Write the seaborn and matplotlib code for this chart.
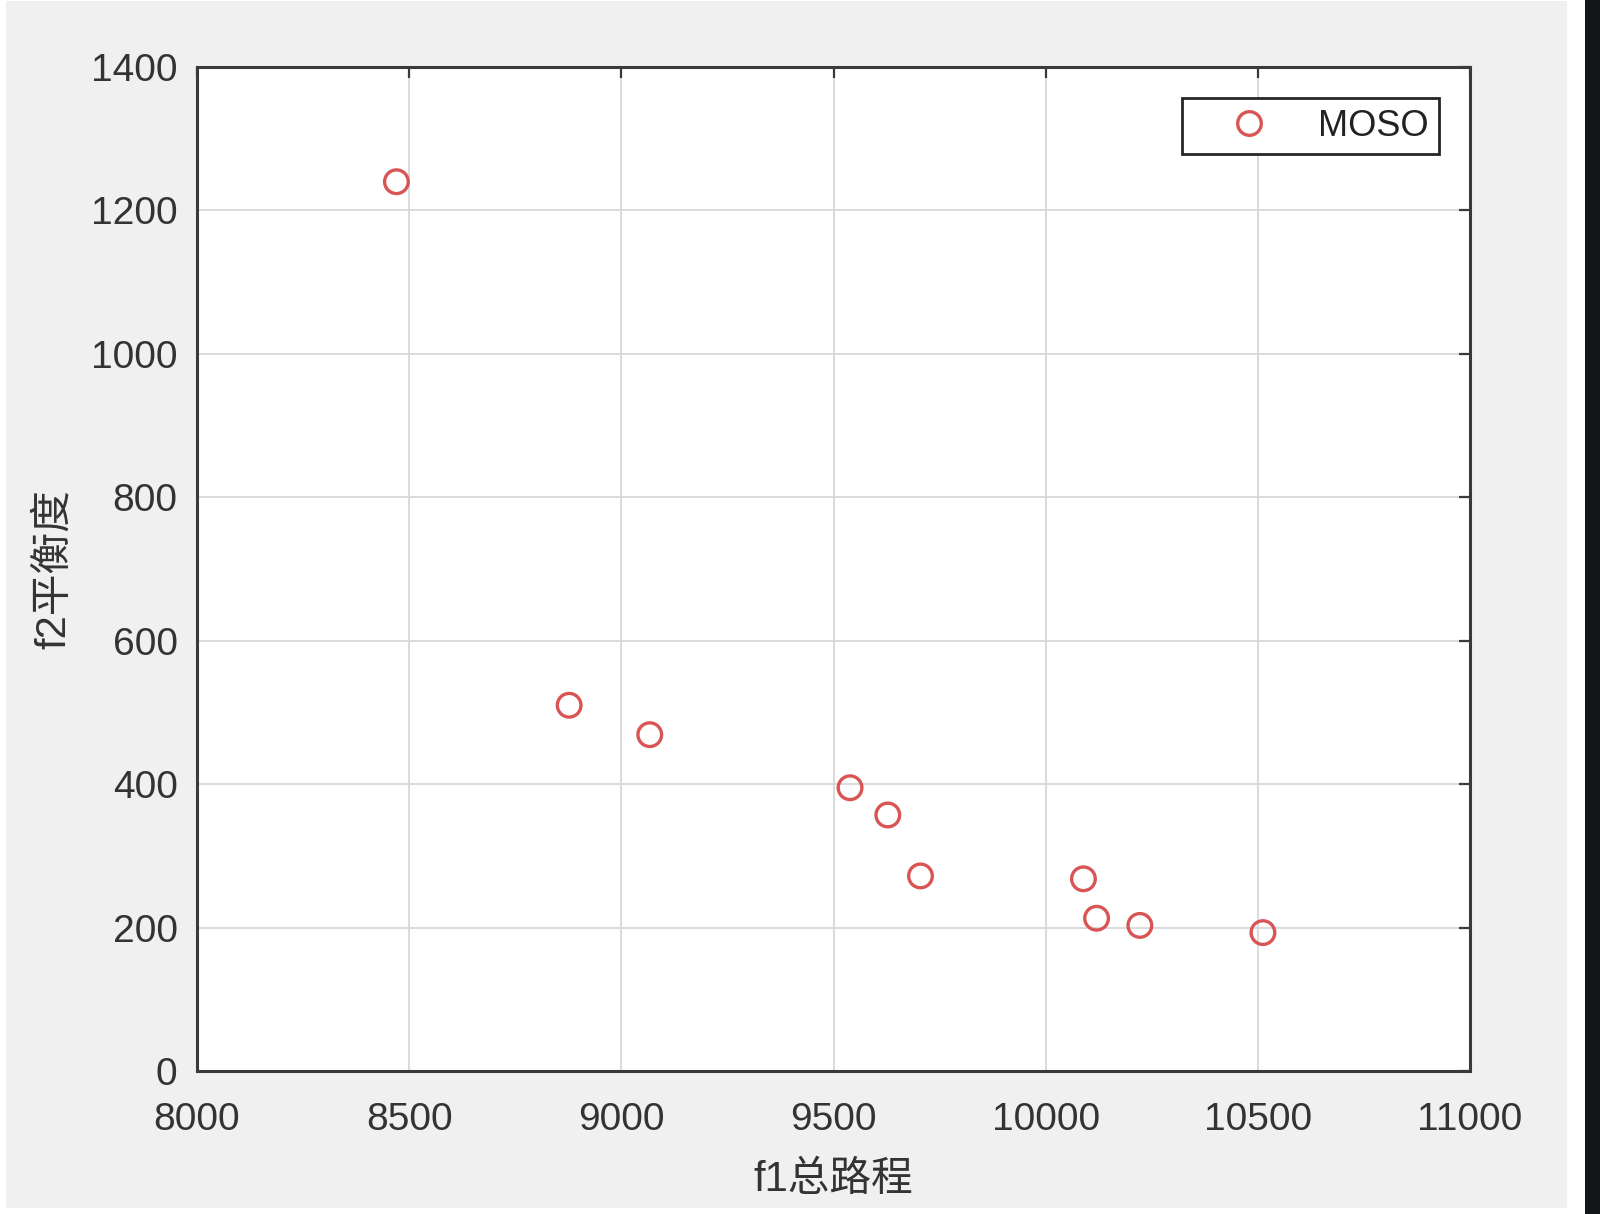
import matplotlib
matplotlib.use("Agg")
import matplotlib.pyplot as plt
from matplotlib.patches import Rectangle
from matplotlib.lines import Line2D
import seaborn as sns
import pandas as pd

# Data
f1_total_distance = [8470, 8877, 9067, 9539, 9628, 9705, 10089, 10120, 10222, 10512]
f2_balance = [1240, 510, 469, 395, 357, 272, 268, 213, 203, 193]
series_name = "MOSO"
x_ticks = [8000, 8500, 9000, 9500, 10000, 10500, 11000]
y_ticks = [0, 200, 400, 600, 800, 1000, 1200, 1400]
x_label = "f1总路程"
y_label = "f2平衡度"

sns.set_style("white")
plt.rcParams["font.family"] = ["Liberation Sans", "Noto Sans CJK SC", "DejaVu Sans"]

W, H = 1600, 1214
fig = plt.figure(figsize=(W / 100, H / 100), dpi=100, facecolor="white")

# Backgrounds: light gray window, black strip on the right
fig.patches.append(Rectangle((6 / W, (H - 1208) / H), (1567 - 6) / W, (1208 - 1) / H,
                             transform=fig.transFigure, facecolor="#f0f0f0",
                             edgecolor="none", zorder=-10))
fig.patches.append(Rectangle((1585 / W, 0), (W - 1585) / W, 1,
                             transform=fig.transFigure, facecolor="#131416",
                             edgecolor="none", zorder=-10))

ax_left, ax_right, ax_top, ax_bottom = 197, 1470, 67, 1071
ax = fig.add_axes([ax_left / W, (H - ax_bottom) / H, (ax_right - ax_left) / W,
                   (ax_bottom - ax_top) / H])
ax.set_facecolor("white")

marker_color = "#d95555"
df = pd.DataFrame({"f1": f1_total_distance, "f2": f2_balance,
                   "series": [series_name] * len(f1_total_distance)})
sns.scatterplot(data=df, x="f1", y="f2", hue="series", palette=[marker_color],
                ax=ax, s=290, marker="o", linewidth=2.4, zorder=3, legend=False)
ax.collections[0].set_facecolor("none")
ax.collections[0].set_edgecolor(marker_color)

ax.set_xlim(8000, 11000)
ax.set_ylim(0, 1400)
ax.set_xticks(x_ticks)
ax.set_yticks(y_ticks)
ax.set_xticklabels([str(t) for t in x_ticks])
ax.set_yticklabels([str(t) for t in y_ticks])

ax.grid(True, color="#d8d8d8", linewidth=1.3, zorder=0)
ax.set_axisbelow(True)

for s in ax.spines.values():
    s.set_color("#3a3a3a")
    s.set_linewidth(2.2)

ax.tick_params(axis="both", which="both", direction="in", length=8, width=1.6,
               color="#3a3a3a", top=True, right=True, labelsize=28,
               labelcolor="#333333")
ax.tick_params(axis="x", pad=22)
ax.tick_params(axis="y", pad=14)

ax.set_xlabel(x_label, fontsize=30, color="#333333", labelpad=16)
ax.set_ylabel(y_label, fontsize=30, color="#333333", labelpad=12)

handle = Line2D([], [], linestyle="none", marker="o", markersize=17,
                markerfacecolor="none", markeredgecolor=marker_color,
                markeredgewidth=2.4)
leg = ax.legend([handle], [series_name], loc="upper right", fontsize=26,
                frameon=True, fancybox=False, framealpha=1, edgecolor="#262626",
                borderpad=0.3, handlelength=3.1, handletextpad=0.35,
                borderaxespad=0.85)
leg.get_frame().set_linewidth(2.0)
for t in leg.get_texts():
    t.set_color("#222222")

fig.savefig("out.png", dpi=100, facecolor=fig.get_facecolor())
